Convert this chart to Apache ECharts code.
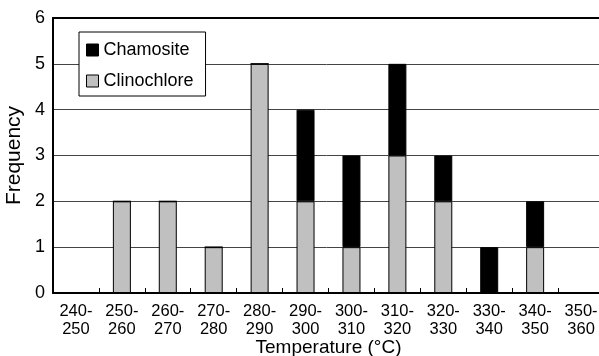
<!DOCTYPE html>
<html>
<head>
<meta charset="utf-8">
<script src="https://cdn.jsdelivr.net/npm/echarts@6/dist/echarts.min.js"></script>
<style>html,body{margin:0;padding:0;background:#fff}#c{width:599px;height:356px}</style>
</head>
<body>
<div id="c"></div>
<script>
var categories = ['240-\n250','250-\n260','260-\n270','270-\n280','280-\n290','290-\n300','300-\n310','310-\n320','320-\n330','330-\n340','340-\n350','350-\n360'];
var clinochlore = [0,2,2,1,5,2,1,3,2,0,1,0];
var chamosite = [0,0,0,0,0,2,2,2,1,1,1,0];
var yTicks = [0,1,2,3,4,5,6];

var chart = echarts.init(document.getElementById('c'));
var font = 'Liberation Sans, Arial, sans-serif';
chart.setOption({
  animation: false,
  textStyle: {fontFamily: font},
  grid: {left: 53, top: 18, width: 551, bottom: 63, containLabel: false, outerBoundsMode: 'none'},
  legend: {
    orient: 'vertical', left: 79, top: 32,
    data: ['Chamosite','Clinochlore'],
    padding: [9, 12, 6, 7], itemGap: 13, itemTextGap: 7,
    borderColor: '#000', borderWidth: 1, backgroundColor: '#fff',
    itemWidth: 12, itemHeight: 12, icon: 'rect',
    itemStyle: {borderColor: '#000', borderWidth: 1},
    textStyle: {fontSize: 18, lineHeight: 18, color: '#000', fontFamily: font}
  },
  xAxis: [{
    type: 'category', data: categories, position: 'bottom',
    name: 'Temperature (°C)', nameLocation: 'middle', nameGap: 45, nameMoveOverlap: false,
    nameTextStyle: {fontSize: 19, color: '#000', fontFamily: font},
    axisLine: {lineStyle: {color: '#000', width: 2}},
    axisTick: {show: true, inside: true, length: 5, lineStyle: {color: '#000', width: 1}},
    axisLabel: {fontSize: 16.5, color: '#000', lineHeight: 18, margin: 9, fontFamily: font, interval: 0},
    splitLine: {show: false}
  },{
    type: 'category', data: categories, position: 'top',
    axisLine: {show: true, lineStyle: {color: '#000', width: 2}},
    axisTick: {show: false}, axisLabel: {show: false}, splitLine: {show: false}
  }],
  yAxis: {
    type: 'value', min: 0, max: 6, interval: 1,
    name: 'Frequency', nameLocation: 'middle', nameGap: 28, nameMoveOverlap: false,
    nameTextStyle: {fontSize: 21, color: '#000', fontFamily: font},
    axisLine: {show: true, lineStyle: {color: '#000', width: 2}},
    axisTick: {show: false},
    axisLabel: {fontSize: 18, color: '#000', margin: 8, fontFamily: font,
      formatter: function(v){ return yTicks.indexOf(v) >= 0 ? String(v) : ''; }},
    splitLine: {show: true, lineStyle: {color: '#444', width: 1}}
  },
  series: [{
    name: 'Clinochlore', type: 'bar', stack: 'a', data: clinochlore, barWidth: 18,
    itemStyle: {color: '#c0c0c0', borderColor: '#000', borderWidth: 1}
  },{
    name: 'Chamosite', type: 'bar', stack: 'a', data: chamosite, barWidth: 18,
    itemStyle: {color: '#000', borderColor: '#000', borderWidth: 1}
  }]
});
</script>
</body>
</html>
